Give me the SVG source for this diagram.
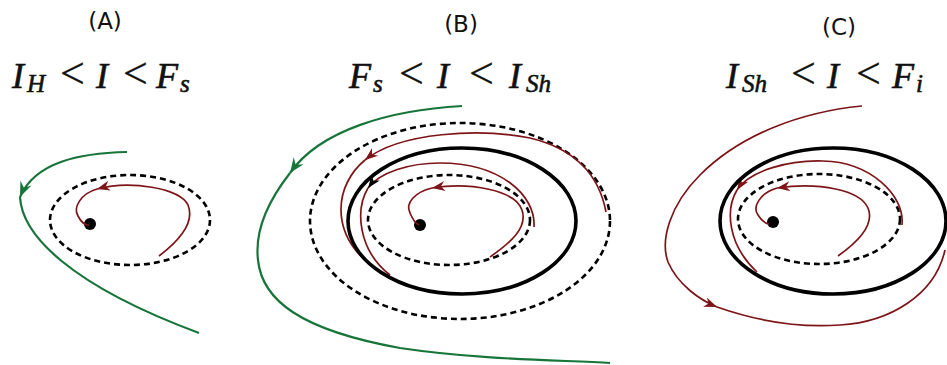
<svg xmlns="http://www.w3.org/2000/svg" width="947" height="365" viewBox="0 0 947 365">
<style>
.lbl{font-family:"DejaVu Sans","Liberation Sans",sans-serif;font-size:23px;fill:#111;text-anchor:middle}
.math{font-family:"Liberation Serif","DejaVu Serif",serif;font-size:36px;fill:#111;stroke:#111;stroke-width:0.6}
.it{font-style:italic}
.sub{font-size:25px;font-style:italic}
.lt{font-size:44px;stroke-width:0.3}
.dash{fill:none;stroke:#000;stroke-width:2.6;stroke-dasharray:6 4}
.solid{fill:none;stroke:#000;stroke-width:3.6}
.red{fill:none;stroke:#7d1518;stroke-width:1.7}
.green{fill:none;stroke:#17753a;stroke-width:2.2}
</style>
<defs>
<marker id="ar" markerUnits="userSpaceOnUse" viewBox="-13 -6 15 12" refX="0" refY="0" markerWidth="15" markerHeight="12" orient="auto" overflow="visible">
<path d="M0,0 L-13,-5 L-9,0 L-13,5 Z" fill="#7d1518"/>
</marker>
<marker id="ak" markerUnits="userSpaceOnUse" viewBox="-13 -6 15 12" refX="0" refY="0" markerWidth="15" markerHeight="12" orient="auto" overflow="visible">
<path d="M0,0 L-13,-5 L-9,0 L-13,5 Z" fill="#000"/>
</marker>
<marker id="ag" markerUnits="userSpaceOnUse" viewBox="-15 -7 17 14" refX="0" refY="0" markerWidth="17" markerHeight="14" orient="auto" overflow="visible">
<path d="M0,0 L-15,-6 L-10,0 L-15,6 Z" fill="#17753a"/>
</marker>
</defs>

<g id="labels">
<text class="lbl" x="105" y="29">(A)</text>
<text class="lbl" x="461" y="32">(B)</text>
<text class="lbl" x="839" y="35">(C)</text>
<text class="math" y="88"><tspan class="it" x="12">I</tspan><tspan class="sub" x="27" dy="4">H</tspan><tspan class="lt" x="60" dy="-4">&lt;</tspan><tspan class="it" x="96">I</tspan><tspan class="lt" x="123">&lt;</tspan><tspan class="it" x="156">F</tspan><tspan class="sub" x="180" dy="4">s</tspan></text>
<text class="math" y="88"><tspan class="it" x="349">F</tspan><tspan class="sub" x="373" dy="4">s</tspan><tspan class="lt" x="399" dy="-4">&lt;</tspan><tspan class="it" x="437">I</tspan><tspan class="lt" x="469">&lt;</tspan><tspan class="it" x="509">I</tspan><tspan class="sub" x="526" dy="4">Sh</tspan></text>
<text class="math" y="88"><tspan class="it" x="726">I</tspan><tspan class="sub" x="742" dy="4">Sh</tspan><tspan class="lt" x="791" dy="-4">&lt;</tspan><tspan class="it" x="827">I</tspan><tspan class="lt" x="856">&lt;</tspan><tspan class="it" x="892">F</tspan><tspan class="sub" x="916" dy="4">i</tspan></text>
</g>

<g id="panelA">
<ellipse id="A-cycle" class="dash" cx="130" cy="220" rx="80" ry="45"/>
<circle id="A-fixed" cx="90" cy="224" r="6" fill="#000"/>
</g>
<g id="panelB">
<ellipse id="B-outer" class="dash" cx="460" cy="221" rx="150" ry="98"/>
<ellipse id="B-inner" class="dash" cx="449" cy="220" rx="81" ry="45"/>
<circle id="B-fixed" cx="420" cy="225" r="6" fill="#000"/>
</g>
<g id="panelC">
<ellipse id="C-inner" class="dash" cx="819" cy="219" rx="81" ry="45"/>
<circle id="C-fixed" cx="773" cy="222" r="6" fill="#000"/>
</g>

<g id="connectors">
<!-- A -->
<path class="red" d="M159,256 C180,240 195,222 188,205 C180,188 130,180 97,189" marker-end="url(#ar)"/>
<path class="red" d="M97,189 C80,194 73,208 78,216 C81,222 85,225 89,225"/>
<path class="green" d="M127,152 C80,153 35,162 20,197" marker-end="url(#ag)"/>
<path class="green" d="M20,197 C22,235 70,285 199,333"/>
<!-- B -->
<path class="green" d="M462,106 C390,110 320,130 290,173" marker-end="url(#ag)"/>
<path class="green" d="M290,173 C265,205 255,235 258,260 C262,300 300,330 400,348 C480,360 560,360 610,363"/>
<path class="red" d="M490,257 C510,243 528,228 522,210 C515,190 470,182 432,188" marker-end="url(#ar)"/>
<path class="red" d="M432,188 C415,192 405,203 410,213 C413,220 416,224 419,225"/>
<path class="red" d="M534,227 C536,195 500,163 440,163 C410,163 380,172 368,188" marker-end="url(#ak)"/>
<path class="red" d="M368,188 C355,210 358,250 390,275"/>
<path class="red" d="M606,212 C600,180 580,150 530,138 C480,128 400,132 365,160" marker-end="url(#ar)"/>
<path class="red" d="M365,160 C335,185 330,230 368,263"/>
<!-- C -->
<path class="red" d="M838,256 C858,242 875,225 868,208 C860,190 820,182 777,188" marker-end="url(#ar)"/>
<path class="red" d="M777,188 C760,193 752,207 758,215 C762,221 766,224 769,224"/>
<path class="red" d="M902,225 C905,195 870,162 823,161 C790,160 750,170 737,190" marker-end="url(#ar)"/>
<path class="red" d="M737,190 C725,210 728,245 757,272"/>
<path class="red" d="M862,106 C800,112 740,135 700,175 C670,205 660,240 668,262 C678,285 700,300 717,307" marker-end="url(#ar)"/>
<path class="red" d="M717,307 C760,322 800,328 840,325 C890,322 935,295 945,250"/>
</g>

<g id="limitcycles">
<ellipse id="B-stable" class="solid" cx="462" cy="221" rx="114" ry="73"/>
<ellipse id="C-stable" class="solid" cx="833" cy="221" rx="113" ry="73"/>
</g>
</svg>
